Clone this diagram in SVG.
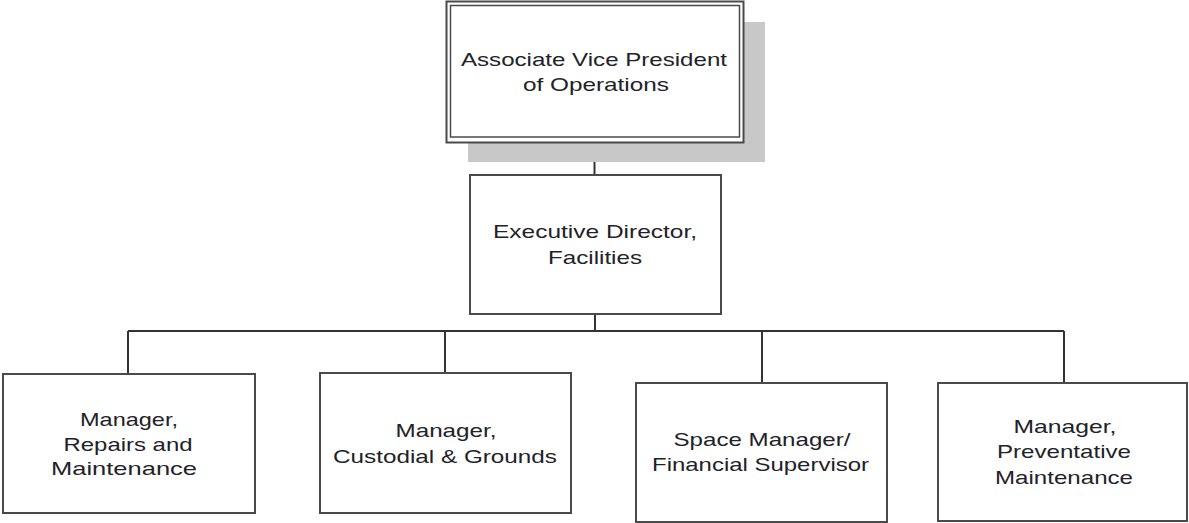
<svg xmlns="http://www.w3.org/2000/svg" width="1189" height="523" viewBox="0 0 1189 523">
<style>
.box{fill:#ffffff;stroke:#4a4a4a;stroke-width:2}
.conn{fill:none;stroke:#333333;stroke-width:2}
.t{font-family:"Liberation Sans",Arial,sans-serif;font-size:19px;fill:#222228;text-anchor:middle}
</style>
<rect width="1189" height="523" fill="#ffffff"/>
<g id="connectors">
<path class="conn" d="M594.5 142 V175"/>
<path class="conn" d="M595 314 V331"/>
<path class="conn" d="M128 331 H1064"/>
<path class="conn" d="M128 331 V374"/>
<path class="conn" d="M445 331 V373"/>
<path class="conn" d="M762 331 V383"/>
<path class="conn" d="M1064 331 V383"/>
</g>
<g id="node-avp">
<rect x="468" y="22" width="297" height="140" fill="#c8c8c8"/>
<rect x="446.5" y="1.5" width="297" height="141" fill="#ffffff" stroke="#4a4a4a" stroke-width="2"/>
<rect x="450.5" y="5.5" width="289" height="131.5" fill="none" stroke="#4a4a4a" stroke-width="1.5"/>
<text class="t" x="594" y="66" textLength="266" lengthAdjust="spacingAndGlyphs">Associate Vice President</text>
<text class="t" x="596" y="91" textLength="146" lengthAdjust="spacingAndGlyphs">of Operations</text>
</g>
<g id="node-exec">
<rect class="box" x="470" y="175" width="251" height="139"/>
<text class="t" x="595" y="238" textLength="204" lengthAdjust="spacingAndGlyphs">Executive Director,</text>
<text class="t" x="595" y="264" textLength="94" lengthAdjust="spacingAndGlyphs">Facilities</text>
</g>
<g id="node-repairs">
<rect class="box" x="3" y="374" width="252" height="139"/>
<text class="t" x="129" y="426" textLength="98" lengthAdjust="spacingAndGlyphs">Manager,</text>
<text class="t" x="128" y="451" textLength="129" lengthAdjust="spacingAndGlyphs">Repairs and</text>
<text class="t" x="124" y="475" textLength="146" lengthAdjust="spacingAndGlyphs">Maintenance</text>
</g>
<g id="node-custodial">
<rect class="box" x="320" y="373" width="251" height="140"/>
<text class="t" x="446" y="437" textLength="101" lengthAdjust="spacingAndGlyphs">Manager,</text>
<text class="t" x="445" y="463" textLength="224" lengthAdjust="spacingAndGlyphs">Custodial &amp; Grounds</text>
</g>
<g id="node-space">
<rect class="box" x="636" y="383" width="251" height="139"/>
<text class="t" x="762" y="446" textLength="177" lengthAdjust="spacingAndGlyphs">Space Manager/</text>
<text class="t" x="760.5" y="471" textLength="217" lengthAdjust="spacingAndGlyphs">Financial Supervisor</text>
</g>
<g id="node-preventative">
<rect class="box" x="938" y="383" width="249" height="138"/>
<text class="t" x="1065" y="433" textLength="103" lengthAdjust="spacingAndGlyphs">Manager,</text>
<text class="t" x="1064" y="458" textLength="134" lengthAdjust="spacingAndGlyphs">Preventative</text>
<text class="t" x="1064" y="484" textLength="138" lengthAdjust="spacingAndGlyphs">Maintenance</text>
</g>
</svg>
